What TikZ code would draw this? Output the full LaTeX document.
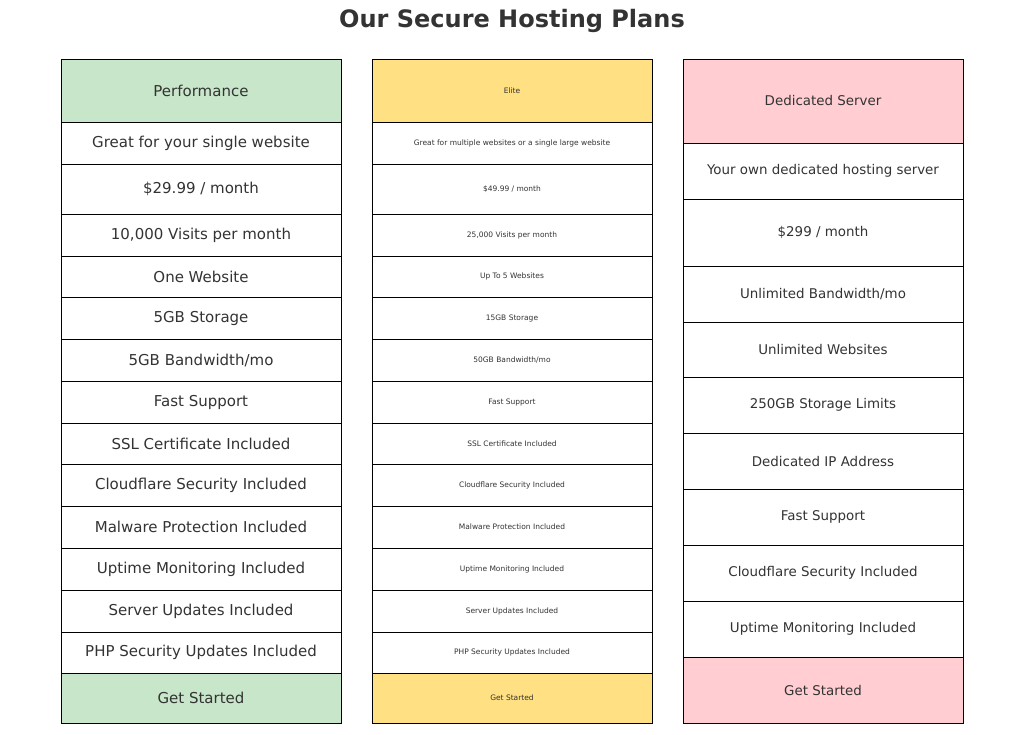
\documentclass[tikz,border=0pt]{standalone}
\usepackage{fontspec}
\setmainfont{DejaVu Sans}
\definecolor{txt}{HTML}{333333}
\definecolor{gr}{HTML}{C8E6C9}
\definecolor{ye}{HTML}{FFE082}
\definecolor{pk}{HTML}{FFCDD2}
\newcommand\myslh{/}
\begin{document}
\begin{tikzpicture}[x=1pt,y=-1pt,
 cell/.style={draw=black,line width=1pt,text=txt}]
\useasboundingbox[fill=white] (0,0) rectangle (1024,734);
\node[text=txt,font=\fontsize{24}{28}\selectfont\bfseries] (title) at (512,21) {Our Secure Hosting Plans};
% column 1
\def\rowsA{59/122/Performance/gr,122/164/Great for your single website/white,164/214/\$29.99 \myslh{} month/white,214/256/{10,000 Visits per month}/white,256/297/One Website/white,297/339/5GB Storage/white,339/381/5GB Bandwidth\myslh{}mo/white,381/423/Fast Support/white,423/464/SSL Certificate Included/white,464/506/Cloudflare Security Included/white,506/548/Malware Protection Included/white,548/590/Uptime Monitoring Included/white,590/632/Server Updates Included/white,632/673/PHP Security Updates Included/white,673/723/Get Started/gr}
\foreach \a/\b/\t/\c [count=\i] in \rowsA {
 \draw[cell,fill=\c] (61,\a) rectangle (341,\b);
 \node[text=txt,font=\fontsize{15}{18}\selectfont] (a\i) at (201,{(\a+\b)/2}) {\t};
}
\def\rowsB{59/122/Elite/ye,122/164/Great for multiple websites or a single large website/white,164/214/\$49.99 \myslh{} month/white,214/256/{25,000 Visits per month}/white,256/297/Up To 5 Websites/white,297/339/15GB Storage/white,339/381/50GB Bandwidth\myslh{}mo/white,381/423/Fast Support/white,423/464/SSL Certificate Included/white,464/506/Cloudflare Security Included/white,506/548/Malware Protection Included/white,548/590/Uptime Monitoring Included/white,590/632/Server Updates Included/white,632/673/PHP Security Updates Included/white,673/723/Get Started/ye}
\foreach \a/\b/\t/\c [count=\i] in \rowsB {
 \draw[cell,fill=\c] (372,\a) rectangle (652,\b);
 \node[text=txt,font=\fontsize{7.5}{9}\selectfont] (b\i) at (512,{(\a+\b)/2}) {\t};
}
\def\rowsC{59/143/Dedicated Server/pk,143/199/Your own dedicated hosting server/white,199/266/\$299 \myslh{} month/white,266/322/Unlimited Bandwidth\myslh{}mo/white,322/377/Unlimited Websites/white,377/433/250GB Storage Limits/white,433/489/Dedicated IP Address/white,489/545/Fast Support/white,545/601/Cloudflare Security Included/white,601/657/Uptime Monitoring Included/white,657/723/Get Started/pk}
\foreach \a/\b/\t/\c [count=\i] in \rowsC {
 \draw[cell,fill=\c] (683,\a) rectangle (963,\b);
 \node[text=txt,font=\fontsize{13.4}{16}\selectfont] (c\i) at (823,{(\a+\b)/2}) {\t};
}
\end{tikzpicture}
\end{document}
